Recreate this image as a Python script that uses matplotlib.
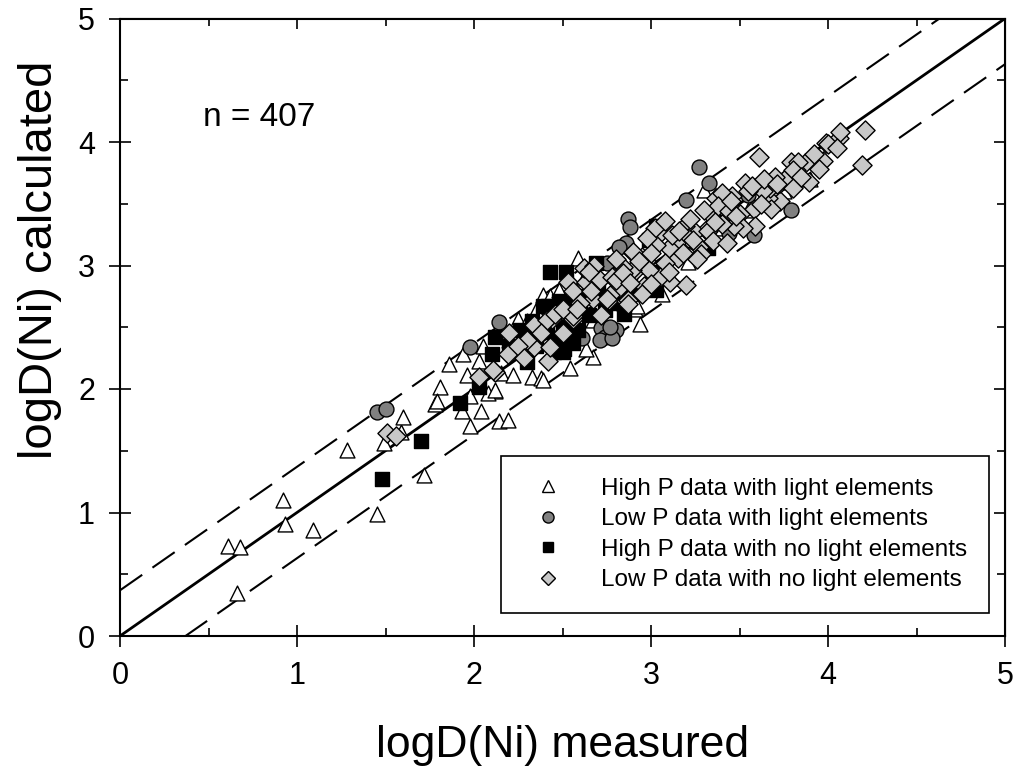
import numpy as np
import matplotlib.pyplot as plt
from matplotlib.lines import Line2D

plt.rcParams['font.family'] = ['Liberation Sans', 'DejaVu Sans']

# High P data with light elements (white triangles)
tri_x = [0.66, 0.61, 0.68, 0.92, 0.93, 1.09, 1.28, 1.45, 1.49, 1.59, 1.60, 1.72,
         1.78, 1.81, 1.86, 1.93, 1.98, 2.04, 1.98, 1.96, 1.94, 2.03, 2.12, 2.08,
         2.15, 2.22, 2.14, 2.19, 2.33, 2.38, 2.54, 2.67, 2.63, 2.25, 2.16, 2.35,
         2.39, 2.43, 2.48, 2.59, 2.94, 2.91, 2.39, 3.30, 3.63, 3.21, 2.92, 3.06,
         2.67, 1.79, 2.12, 2.30, 2.45, 2.62, 2.80, 2.95, 3.00, 2.72, 3.10, 3.25,
         3.40, 3.55, 3.75, 3.90, 2.20, 2.05, 2.50, 2.85]
tri_y = [0.35, 0.73, 0.72, 1.10, 0.91, 0.86, 1.51, 0.99, 1.56, 1.65, 1.77, 1.30,
         1.88, 2.02, 2.20, 1.82, 1.70, 1.82, 1.94, 2.11, 2.28, 2.23, 1.98, 1.97,
         2.13, 2.11, 1.74, 1.75, 2.10, 2.09, 2.17, 2.26, 2.32, 2.57, 2.48, 2.64,
         2.76, 2.75, 2.80, 3.06, 2.53, 2.65, 2.07, 3.61, 3.71, 3.03, 2.67, 2.77,
         2.56, 1.90, 1.99, 2.55, 2.62, 2.90, 2.98, 3.00, 2.95, 2.78, 3.10, 3.20,
         3.30, 3.45, 3.60, 3.70, 2.40, 2.35, 2.50, 2.70]

# Low P data with light elements (grey circles)
cir_x = [1.45, 1.50, 1.98, 2.14, 2.75, 2.86, 2.82, 2.72, 2.74, 2.80, 2.71, 2.78,
         2.77, 2.61, 3.27, 3.33, 3.20, 3.79, 3.55, 3.58, 3.44, 2.87, 2.88]
cir_y = [1.81, 1.84, 2.34, 2.54, 3.02, 3.18, 3.15, 2.49, 2.42, 2.48, 2.40, 2.41,
         2.50, 2.41, 3.80, 3.67, 3.53, 3.45, 3.57, 3.25, 3.26, 3.38, 3.31]

# High P data with no light elements (black squares)
sq_x = [1.48, 1.70, 1.92, 2.03, 2.12, 2.10, 2.26, 2.31, 2.46, 2.52, 2.56, 2.50,
        2.43, 2.52, 2.69, 2.88, 2.74, 2.85, 3.03, 2.99, 3.32, 3.03, 2.39, 2.48,
        2.50, 2.39, 2.53, 2.42, 2.41, 3.01, 2.28, 2.33, 2.55, 2.60, 2.62, 2.70,
        2.78, 2.35, 2.45, 2.30, 2.55, 2.20, 2.65, 2.90, 3.05, 2.51, 2.59]
sq_y = [1.27, 1.58, 1.89, 2.02, 2.42, 2.28, 2.48, 2.42, 2.39, 2.50, 2.37, 2.30,
        2.95, 2.95, 3.02, 2.88, 2.64, 2.61, 3.32, 3.21, 3.14, 2.80, 2.67, 2.71,
        2.48, 2.48, 2.40, 2.67, 2.46, 2.88, 2.45, 2.55, 2.70, 2.65, 2.75, 2.80,
        2.70, 2.35, 2.30, 2.22, 2.55, 2.35, 2.60, 2.78, 2.95, 2.32, 2.48]

# Low P data with no light elements (light grey diamonds)
dia_x = [1.51, 1.56, 2.03, 2.12, 2.19, 2.34, 2.34, 2.42, 2.43, 2.44, 2.56, 2.53,
         2.63, 2.56, 2.71, 2.78, 2.82, 2.90, 2.90, 2.97, 2.96, 2.67, 2.76, 2.86,
         2.11, 3.61, 4.19, 3.99, 4.06, 4.21, 3.97, 3.87, 3.82, 3.76, 3.89, 3.70,
         3.73, 3.66, 3.58, 3.50, 3.46, 3.37, 3.40, 3.59, 3.52, 3.47, 3.34, 3.31,
         3.25, 3.19, 3.21, 3.14, 3.10, 3.05, 3.03, 3.27, 3.28, 3.15, 3.08, 3.20,
         3.11, 3.05, 2.99, 2.95, 2.90, 2.89, 2.84, 2.80, 2.77, 2.87, 3.53, 3.79,
         3.73, 3.67, 3.42, 4.07, 4.00, 3.83, 3.80, 3.75, 3.80, 3.68, 3.63, 3.32,
         3.24, 3.40, 2.66, 2.75, 2.84, 2.88, 2.87, 2.95, 2.93, 2.41, 2.46, 2.56,
         2.30, 2.38, 2.50, 2.60, 2.62, 2.68, 2.72, 2.65, 2.80, 3.00, 3.12, 3.18,
         3.35, 3.38, 3.44, 3.55, 3.62, 3.70, 3.85, 3.92, 4.05, 3.95, 3.00, 3.10,
         2.25, 2.28, 2.50, 2.20, 2.58, 3.16, 3.22, 3.30, 3.36, 3.45, 3.48, 3.57,
         3.64, 3.71, 3.02, 2.98, 3.08, 3.26, 3.43]
dia_y = [1.64, 1.62, 2.10, 2.14, 2.28, 2.52, 2.34, 2.23, 2.34, 2.57, 2.57, 2.87,
         2.87, 2.79, 2.88, 2.91, 2.82, 2.94, 3.10, 3.04, 2.83, 2.73, 2.72, 2.71,
         2.15, 3.88, 3.81, 3.99, 4.03, 4.10, 3.85, 3.83, 3.77, 3.69, 3.68, 3.63,
         3.52, 3.55, 3.46, 3.42, 3.56, 3.55, 3.59, 3.32, 3.30, 3.32, 3.41, 3.29,
         3.27, 3.32, 3.22, 3.18, 3.14, 3.26, 3.17, 3.15, 3.09, 3.06, 3.02, 2.84,
         2.87, 2.91, 2.96, 3.07, 3.11, 2.96, 2.99, 2.88, 2.76, 2.72, 3.67, 3.84,
         3.67, 3.63, 3.36, 4.08, 3.98, 3.84, 3.77, 3.69, 3.63, 3.46, 3.60, 3.28,
         3.21, 3.34, 2.79, 2.73, 2.94, 2.86, 2.69, 2.77, 3.04, 2.56, 2.61, 2.59,
         2.40, 2.45, 2.65, 2.70, 2.98, 3.00, 2.60, 2.95, 3.05, 3.10, 3.25, 3.10,
         3.20, 3.48, 3.44, 3.60, 3.50, 3.72, 3.72, 3.90, 3.95, 3.78, 2.85, 2.95,
         2.35, 2.25, 2.45, 2.45, 2.65, 3.28, 3.38, 3.45, 3.35, 3.52, 3.40, 3.64,
         3.70, 3.66, 3.30, 3.22, 3.36, 3.05, 3.18]

band = 0.37
n_text = "n = 407"

fig = plt.figure(figsize=(10.16, 7.74), dpi=100)
ax = fig.add_axes([120 / 1016, 1 - 636 / 774, 885 / 1016, 617.5 / 774])

line = np.array([0, 5])
ax.plot(line, line, color='black', lw=2, zorder=1)
ax.plot(line, line + band, color='black', lw=1.5, dashes=(13, 6), zorder=1)
ax.plot(line, line - band, color='black', lw=1.5, dashes=(13, 6), zorder=1)

ax.scatter(tri_x, tri_y, marker='^', s=115, facecolor='white', edgecolor='black', lw=1, zorder=2)
ax.scatter(cir_x, cir_y, marker='o', s=115, facecolor='#808080', edgecolor='black', lw=1, zorder=3)
ax.scatter(sq_x, sq_y, marker='s', s=95, facecolor='black', edgecolor='black', lw=1, zorder=4)
ax.scatter(dia_x, dia_y, marker='D', s=95, facecolor='#c8c8c8', edgecolor='black', lw=1, zorder=5)

ax.set_xlim(0, 5)
ax.set_ylim(0, 5)
ax.set_xticks(range(6))
ax.set_yticks(range(6))
ax.set_xticks(np.arange(0.5, 5, 1), minor=True)
ax.set_yticks(np.arange(0.5, 5, 1), minor=True)
ax.tick_params(which='major', direction='inout', length=16, width=1.2, labelsize=22, pad=10)
ax.tick_params(which='minor', direction='in', length=6, width=1.2)
for s in ax.spines.values():
    s.set_linewidth(1.5)

# ticks on top and right, inside only
top = ax.secondary_xaxis('top')
top.set_xticks(range(6))
top.set_xticks(np.arange(0.5, 5, 1), minor=True)
top.tick_params(which='major', direction='in', length=8, width=1.2, labeltop=False)
top.tick_params(which='minor', direction='in', length=6, width=1.2)
right = ax.secondary_yaxis('right')
right.set_yticks(range(6))
right.set_yticks(np.arange(0.5, 5, 1), minor=True)
right.tick_params(which='major', direction='in', length=8, width=1.2, labelright=False)
right.tick_params(which='minor', direction='in', length=6, width=1.2)

ax.set_xlabel('logD(Ni) measured', fontsize=32, va='center')
ax.xaxis.set_label_coords(0.5, (636 - 745) / 617.5)
ax.set_ylabel('logD(Ni) calculated', fontsize=34, va='center')
ax.yaxis.set_label_coords((40 - 120) / 885, (636 - 260) / 617.5)

ax.text(0.094, 0.84, n_text, transform=ax.transAxes, fontsize=24, va='center', ha='left')

handles = [
    Line2D([], [], ls='none', marker='^', ms=8, mfc='white', mec='black'),
    Line2D([], [], ls='none', marker='o', ms=8, mfc='#808080', mec='black'),
    Line2D([], [], ls='none', marker='s', ms=7, mfc='black', mec='black'),
    Line2D([], [], ls='none', marker='D', ms=7, mfc='#c8c8c8', mec='black'),
]
labels = ['High P data with light elements', 'Low P data with light elements',
          'High P data with no light elements', 'Low P data with no light elements']
leg = ax.legend(handles, labels, loc='lower right', bbox_to_anchor=(0.982, 0.037),
                borderaxespad=0, fontsize=17.5, fancybox=False, framealpha=1,
                edgecolor='black', labelspacing=0.35, handletextpad=1.2, borderpad=0.9)
leg.get_frame().set_linewidth(1.2)

fig.savefig('out.png', dpi=100)
